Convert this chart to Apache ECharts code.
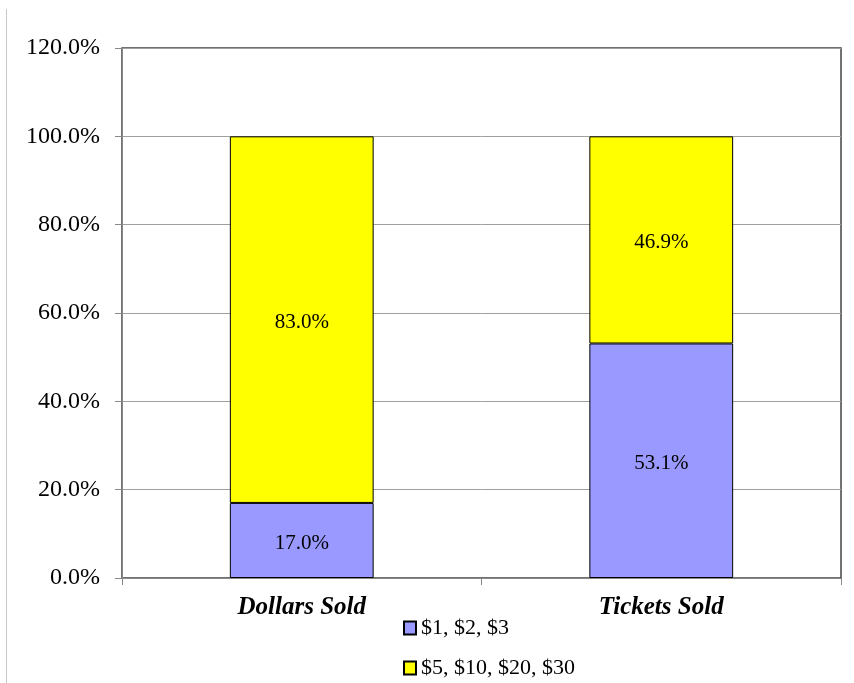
<!DOCTYPE html>
<html><head><meta charset="utf-8">
<script src="https://cdn.jsdelivr.net/npm/echarts@6/dist/echarts.min.js"></script>
<style>html,body{margin:0;padding:0;background:#fff}#c{width:854px;height:683px}</style>
</head><body><div id="c"></div>
<script>
const categories = ['Dollars Sold', 'Tickets Sold'];
const seriesNames = ['$1, $2, $3', '$5, $10, $20, $30'];
const lowPrice = [17.0, 53.1];
const highPrice = [83.0, 46.9];
const yTicks = [0, 20, 40, 60, 80, 100, 120];

const serif = '"Liberation Serif","Times New Roman",serif';
const chart = echarts.init(document.getElementById('c'));
const lbl = {show: true, position: 'inside', offset: [0, 3], color: '#000', fontFamily: serif, fontSize: 21,
  formatter: p => p.value.toFixed(1) + '%'};
chart.setOption({
  animation: false,
  backgroundColor: '#fff',
  graphic: [{type: 'line', shape: {x1: 6.5, y1: 9, x2: 6.5, y2: 683}, style: {stroke: '#c8c8c8', lineWidth: 1}}],
  grid: {left: 122, right: 13, top: 48, bottom: 105, show: true, borderColor: '#444', borderWidth: 1.5},
  legend: {
    orient: 'vertical', left: 403, top: 617, height: 90, padding: 0, itemGap: 18, itemWidth: 12, itemHeight: 13,
    icon: 'rect', data: seriesNames,
    textStyle: {fontFamily: serif, fontSize: 22, color: '#000'}
  },
  xAxis: {
    type: 'category', data: categories,
    axisLine: {lineStyle: {color: '#888', width: 1}},
    axisTick: {show: true, length: 7, lineStyle: {color: '#888'}},
    axisLabel: {fontFamily: serif, fontSize: 25, fontWeight: 'bold', fontStyle: 'italic', color: '#000', margin: 17}
  },
  yAxis: {
    type: 'value', min: yTicks[0], max: yTicks[yTicks.length - 1], interval: 20,
    axisLine: {show: true, lineStyle: {color: '#888'}},
    axisTick: {show: true, length: 7, lineStyle: {color: '#888'}},
    splitLine: {lineStyle: {color: '#a0a0a0'}},
    axisLabel: {fontFamily: serif, fontSize: 24, color: '#000', margin: 22,
      formatter: v => v.toFixed(1) + '%'}
  },
  series: [
    {name: seriesNames[0], type: 'bar', stack: 's', data: lowPrice, barWidth: '40%',
      itemStyle: {color: '#9999FF', borderColor: '#000', borderWidth: 1}, label: lbl},
    {name: seriesNames[1], type: 'bar', stack: 's', data: highPrice, barWidth: '40%',
      itemStyle: {color: '#FFFF00', borderColor: '#000', borderWidth: 1}, label: lbl}
  ]
});
</script></body></html>
